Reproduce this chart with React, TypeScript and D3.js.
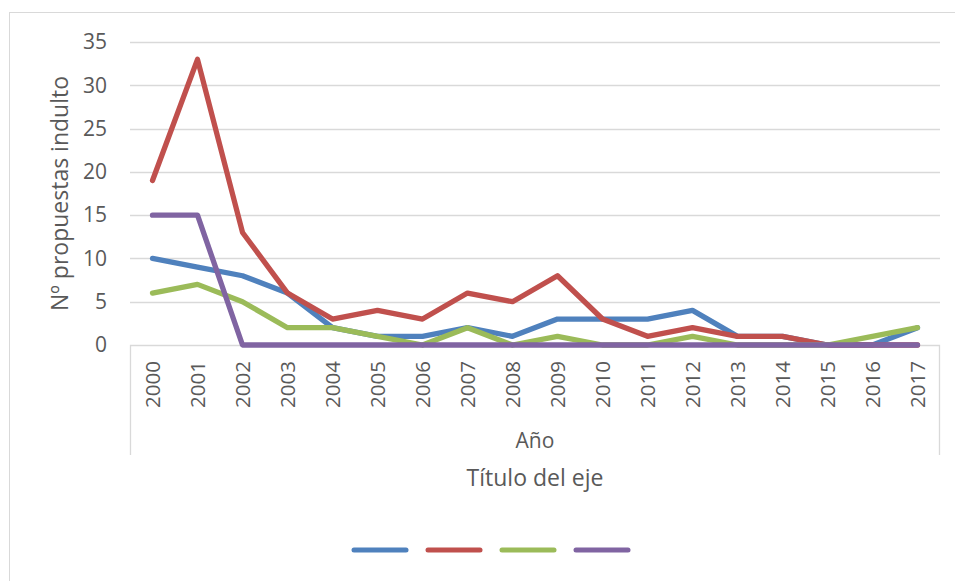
import React, { useEffect, useRef } from 'react';
import * as d3 from 'd3';

const years = ['2000', '2001', '2002', '2003', '2004', '2005', '2006', '2007', '2008',
  '2009', '2010', '2011', '2012', '2013', '2014', '2015', '2016', '2017'];

const serieAzul = [10, 9, 8, 6, 2, 1, 1, 2, 1, 3, 3, 3, 4, 1, 1, 0, 0, 2];
const serieRoja = [19, 33, 13, 6, 3, 4, 3, 6, 5, 8, 3, 1, 2, 1, 1, 0, 0, 0];
const serieVerde = [6, 7, 5, 2, 2, 1, 0, 2, 0, 1, 0, 0, 1, 0, 0, 0, 1, 2];
const serieMorada = [15, 15, 0, 0, 0, 0, 0, 0, 0, 0, 0, 0, 0, 0, 0, 0, 0, 0];

const yTicks = [0, 5, 10, 15, 20, 25, 30, 35];
const colors = ['#4F81BD', '#C0504D', '#9BBB59', '#8064A2'];

const FONT = '"Open Sans", sans-serif';
const TEXT = '#595959';
const GRID = '#d9d9d9';

function App() {
  const ref = useRef<SVGSVGElement>(null);

  useEffect(() => {
    const svg = d3.select(ref.current);
    svg.selectAll('*').remove();

    const width = 955, height = 581;
    const margin = { top: 42, right: 15, bottom: 236, left: 130 };
    const w = width - margin.left - margin.right;
    const h = height - margin.top - margin.bottom;

    // chart border
    svg.append('rect')
      .attr('x', 9.5).attr('y', 12.5)
      .attr('width', 1000).attr('height', 1000)
      .attr('fill', '#fff').attr('stroke', GRID);

    const g = svg.append('g').attr('transform', `translate(${margin.left},${margin.top})`);

    const x = d3.scaleBand().domain(years).range([0, w]);
    const y = d3.scaleLinear().domain([0, 35]).range([h, 0]);

    // gridlines
    g.selectAll('.grid')
      .data(yTicks.filter(d => d > 0))
      .enter().append('line')
      .attr('x1', 0).attr('x2', w)
      .attr('y1', d => Math.round(y(d)) + 0.5).attr('y2', d => Math.round(y(d)) + 0.5)
      .attr('stroke', GRID).attr('stroke-width', 1.3);

    // y tick labels
    g.selectAll('.ytick')
      .data(yTicks)
      .enter().append('text')
      .attr('x', -23).attr('y', d => y(d))
      .attr('dy', '0.35em')
      .attr('text-anchor', 'end')
      .attr('font-family', FONT).attr('font-size', 21)
      .attr('fill', TEXT)
      .text(d => d);

    // category axis box
    const axisBottom = 110;
    g.append('path')
      .attr('d', `M0.5,${h + axisBottom} V${h + 0.5} H${w - 0.5} V${h + axisBottom}`)
      .attr('fill', 'none').attr('stroke', GRID).attr('stroke-width', 1.3);

    // year labels
    g.selectAll('.xtick')
      .data(years)
      .enter().append('text')
      .attr('transform', d => `translate(${x(d)! + x.bandwidth() / 2},${h + 16}) rotate(-90)`)
      .attr('dy', '0.35em')
      .attr('text-anchor', 'end')
      .attr('font-family', FONT).attr('font-size', 20.5)
      .attr('fill', TEXT)
      .text(d => d);

    g.append('text')
      .attr('x', w / 2).attr('y', h + 103)
      .attr('text-anchor', 'middle')
      .attr('font-family', FONT).attr('font-size', 21)
      .attr('fill', TEXT)
      .text('Año');

    g.append('text')
      .attr('x', w / 2).attr('y', h + 141)
      .attr('text-anchor', 'middle')
      .attr('font-family', FONT).attr('font-size', 23)
      .attr('fill', TEXT)
      .text('Título del eje');

    g.append('text')
      .attr('transform', `translate(-70,${h / 2}) rotate(-90)`)
      .attr('dy', '0.35em')
      .attr('text-anchor', 'middle')
      .attr('font-family', FONT).attr('font-size', 23)
      .attr('fill', TEXT)
      .text('Nº propuestas indulto');

    // series
    const series = [serieAzul, serieRoja, serieVerde, serieMorada];
    const line = d3.line<number>()
      .x((_, i) => x(years[i])! + x.bandwidth() / 2)
      .y(d => y(d));

    series.forEach((s, i) => {
      g.append('path')
        .datum(s)
        .attr('d', line)
        .attr('fill', 'none')
        .attr('stroke', colors[i])
        .attr('stroke-width', 5.3)
        .attr('stroke-linejoin', 'round')
        .attr('stroke-linecap', 'round');
    });

    // legend (no series names)
    const legend = svg.append('g').attr('transform', 'translate(354,550)');
    colors.forEach((c, i) => {
      legend.append('line')
        .attr('x1', i * 74).attr('x2', i * 74 + 52)
        .attr('y1', 0).attr('y2', 0)
        .attr('stroke', c).attr('stroke-width', 5)
        .attr('stroke-linecap', 'round');
    });
  }, []);

  return (
    <svg ref={ref} width={955} height={581}
      style={{ position: 'absolute', left: 0, top: 0, background: '#fff' }} />
  );
}

export default App;
